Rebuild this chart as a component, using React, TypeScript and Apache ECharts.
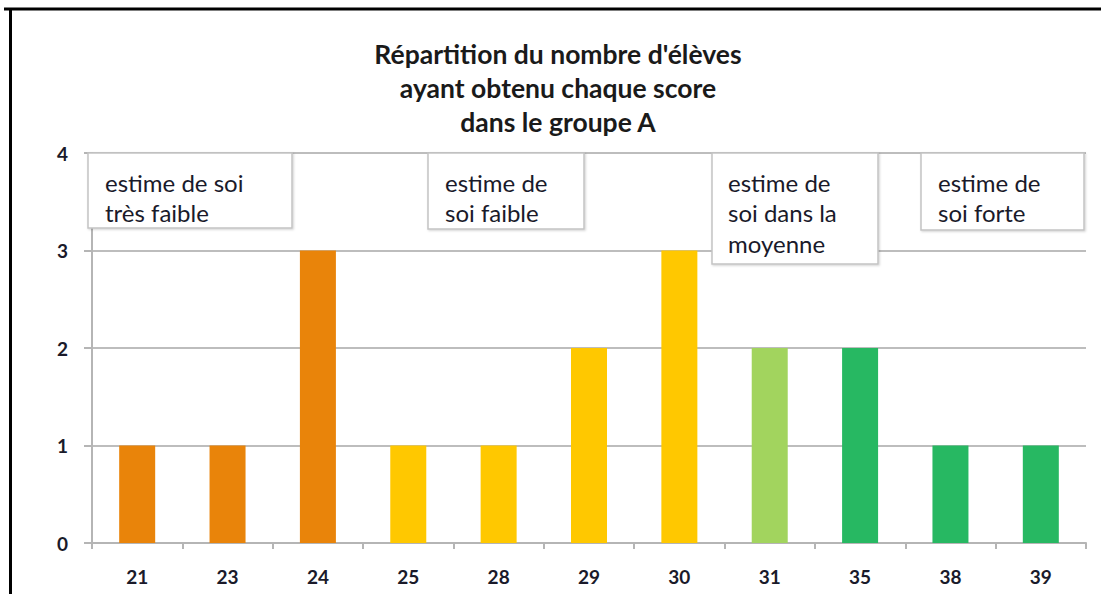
import React, { useEffect, useRef } from "react";
import * as echarts from "echarts";

const titleLines = ["Répartition du nombre d'élèves", "ayant obtenu chaque score", "dans le groupe A"];
const scores = ["21", "23", "24", "25", "28", "29", "30", "31", "35", "38", "39"];
const counts = [1, 1, 3, 1, 1, 2, 3, 2, 2, 1, 1];
const barColors = [
  "#E9840A", "#E9840A", "#E9840A",
  "#FFC800", "#FFC800", "#FFC800", "#FFC800",
  "#A2D45E",
  "#27B862", "#27B862", "#27B862",
];
const yTicks = [0, 1, 2, 3, 4];
const boxTexts = [
  ["estime de soi", "très faible"],
  ["estime de", "soi faible"],
  ["estime de", "soi dans la", "moyenne"],
  ["estime de", "soi forte"],
];
// box layout: [left, top, right, bottom, textLeft]
const boxLayout = [
  [88, 153, 292, 228, 105],
  [428, 153, 584, 229, 445],
  [712, 153, 878, 264, 728],
  [921, 153, 1084, 230, 938],
];

const FONT = "Lato, 'Open Sans', sans-serif";

export default function App() {
  const ref = useRef<HTMLDivElement>(null);
  useEffect(() => {
    if (!ref.current) return;
    const chart = echarts.init(ref.current, null, { renderer: "svg" });
    const graphics: any[] = [];
    boxTexts.forEach((lines, i) => {
      const [l, t, r, b, tx] = boxLayout[i];
      graphics.push({
        type: "rect",
        shape: { x: l, y: t, width: r - l, height: b - t },
        style: {
          fill: "#ffffff",
          stroke: "#c4c4c4",
          lineWidth: 1.5,
          shadowColor: "rgba(0,0,0,0.18)",
          shadowBlur: 2,
          shadowOffsetX: 1,
          shadowOffsetY: 1,
        },
        z: 10,
      });
      lines.forEach((line, j) => {
        graphics.push({
          type: "text",
          x: tx,
          y: t + 29 + j * 30.5,
          style: {
            text: line,
            fill: "#1a1a2a",
            font: `24px ${FONT}`,
            textVerticalAlign: "middle",
          },
          z: 11,
        });
      });
    });
    // outer frame (left & top black lines)
    graphics.push({
      type: "line",
      shape: { x1: 4, y1: 9, x2: 1101, y2: 9 },
      style: { stroke: "#000", lineWidth: 3 },
      z: 20,
    });
    graphics.push({
      type: "line",
      shape: { x1: 10.5, y1: 8, x2: 10.5, y2: 594 },
      style: { stroke: "#000", lineWidth: 3 },
      z: 20,
    });

    chart.setOption({
      animation: false,
      backgroundColor: "#ffffff",
      title: {
        text: titleLines.join("\n"),
        left: 553,
        textAlign: "center",
        top: 32,
        textStyle: {
          fontFamily: FONT,
          fontSize: 26.5,
          fontWeight: "bold",
          color: "#1a1a1a",
          lineHeight: 34,
        },
      },
      grid: { left: 92, right: 15, top: 153, bottom: 51, containLabel: false },
      xAxis: {
        type: "category",
        data: scores,
        axisLine: { lineStyle: { color: "#b5b5b5", width: 2 } },
        axisTick: { show: true, length: 6, lineStyle: { color: "#b5b5b5", width: 2 } },
        axisLabel: {
          margin: 24,
          fontFamily: FONT,
          fontSize: 19,
          fontWeight: "bold",
          color: "#1a1a2a",
        },
      },
      yAxis: {
        type: "value",
        min: yTicks[0],
        max: yTicks[yTicks.length - 1],
        interval: 1,
        axisLine: { show: true, lineStyle: { color: "#b5b5b5", width: 2 } },
        axisTick: { show: true, length: 8, lineStyle: { color: "#b5b5b5", width: 2 } },
        splitLine: { lineStyle: { color: "#bdbdbd", width: 2 } },
        axisLabel: {
          margin: 24,
          fontFamily: FONT,
          fontSize: 19,
          fontWeight: "bold",
          color: "#1a1a2a",
        },
      },
      series: [
        {
          type: "bar",
          barWidth: 36,
          data: counts.map((v, i) => ({ value: v, itemStyle: { color: barColors[i] } })),
        },
      ],
      graphic: graphics,
    });
    return () => chart.dispose();
  }, []);
  return (
    <div
      ref={ref}
      style={{ position: "fixed", left: 0, top: 0, width: 1101, height: 594, background: "#fff" }}
    />
  );
}
